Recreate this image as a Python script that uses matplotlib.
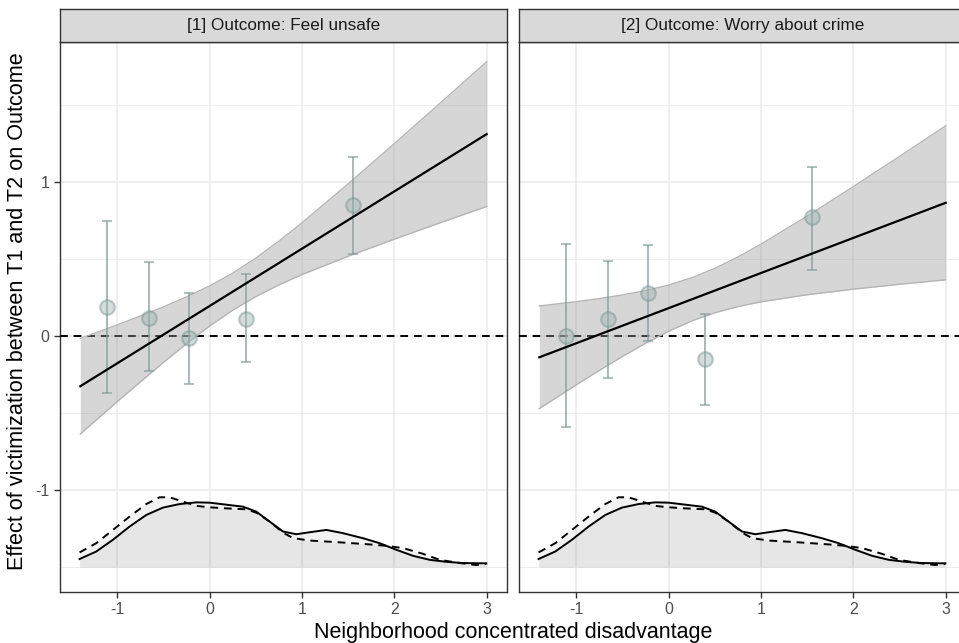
import matplotlib.pyplot as plt
import numpy as np

plt.rcParams['font.family'] = ['Liberation Sans', 'DejaVu Sans']

# binned estimates (x = bin mean of disadvantage)
nokta_x = [-1.11, -0.66, -0.22, 0.39, 1.55]

tahmin1 = [0.19, 0.12, -0.01, 0.11, 0.85]
alt1 = [-0.37, -0.23, -0.31, -0.17, 0.53]
ust1 = [0.75, 0.48, 0.28, 0.40, 1.16]

tahmin2 = [0.00, 0.11, 0.28, -0.15, 0.77]
alt2 = [-0.59, -0.27, -0.03, -0.45, 0.43]
ust2 = [0.60, 0.49, 0.59, 0.14, 1.10]

# linear fit and its band
bant_x = [-1.4, -1.0, -0.75, -0.5, -0.25, 0.0, 0.25, 0.5, 0.75, 1.0, 1.5, 2.0, 2.5, 3.0]
cizgi1 = [-0.326, -0.177, -0.084, 0.009, 0.102, 0.195, 0.288, 0.381, 0.474, 0.567, 0.753, 0.939, 1.125, 1.311]
bant_ust1 = [-0.016, 0.072, 0.130, 0.189, 0.254, 0.325, 0.408, 0.506, 0.616, 0.735, 0.988, 1.249, 1.514, 1.781]
bant_alt1 = [-0.636, -0.426, -0.298, -0.171, -0.050, 0.065, 0.168, 0.256, 0.332, 0.399, 0.518, 0.629, 0.736, 0.841]

cizgi2 = [-0.138, -0.047, 0.010, 0.067, 0.124, 0.181, 0.238, 0.295, 0.352, 0.409, 0.523, 0.637, 0.751, 0.865]
bant_ust2 = [0.195, 0.223, 0.243, 0.267, 0.295, 0.331, 0.378, 0.439, 0.513, 0.596, 0.778, 0.970, 1.166, 1.365]
bant_alt2 = [-0.471, -0.317, -0.223, -0.133, -0.047, 0.031, 0.098, 0.151, 0.191, 0.222, 0.268, 0.304, 0.336, 0.365]

# density of disadvantage (drawn on the effect scale, base at -1.5)
yog_x = [-1.408, -1.227, -1.047, -0.866, -0.686, -0.505, -0.325, -0.144, 0.0, 0.181, 0.361, 0.505,
         0.650, 0.794, 0.939, 1.083, 1.264, 1.444, 1.661, 1.841, 2.022, 2.202, 2.383, 2.563, 2.744, 2.996]
yog_duz = [-1.448, -1.399, -1.323, -1.237, -1.162, -1.114, -1.091, -1.080, -1.082, -1.095, -1.108, -1.140,
           -1.205, -1.269, -1.287, -1.274, -1.259, -1.280, -1.313, -1.345, -1.388, -1.427, -1.453, -1.466,
           -1.474, -1.476]
kesik_x = [-1.408, -1.227, -1.047, -0.866, -0.686, -0.542, -0.433, -0.289, -0.144, 0.0, 0.181, 0.397,
           0.505, 0.650, 0.794, 0.903, 1.083, 1.372, 1.733, 1.913, 2.094, 2.310, 2.491, 2.708, 2.888, 2.996]
yog_kesik = [-1.405, -1.345, -1.259, -1.172, -1.091, -1.047, -1.047, -1.075, -1.103, -1.112, -1.119, -1.125,
             -1.147, -1.205, -1.276, -1.312, -1.328, -1.338, -1.353, -1.362, -1.377, -1.414, -1.453, -1.474,
             -1.487, -1.478]
taban = -1.5

basliklar = ["[1] Outcome: Feel unsafe", "[2] Outcome: Worry about crime"]
x_tik = [-1, 0, 1, 2, 3]
y_tik = [-1, 0, 1]
y_minor = [-1.5, -0.5, 0.5, 1.5]

paneller = [
    (tahmin1, alt1, ust1, cizgi1, bant_alt1, bant_ust1),
    (tahmin2, alt2, ust2, cizgi2, bant_alt2, bant_ust2),
]

fig = plt.figure(figsize=(9.59, 6.43), dpi=100)
fig.patch.set_facecolor("white")

sol_kenar = [60 / 959, 519 / 959]
for i, (tah, alt, ust, cz, b_alt, b_ust) in enumerate(paneller):
    ax = fig.add_axes([sol_kenar[i], 51 / 643, 447 / 959, 550 / 643])
    ax.set_xlim(-1.62, 3.22)
    ax.set_ylim(-1.662, 1.909)

    # grid
    for g in x_tik:
        ax.axvline(g, color="#ebebeb", lw=1.1, zorder=0)
    for g in y_tik:
        ax.axhline(g, color="#ebebeb", lw=1.1, zorder=0)
    for g in y_minor:
        ax.axhline(g, color="#ebebeb", lw=0.6, zorder=0)

    # density
    ax.fill_between(yog_x, taban, yog_duz, color="grey", alpha=0.1, lw=0, zorder=1)
    ax.fill_between(kesik_x, taban, yog_kesik, color="grey", alpha=0.1, lw=0, zorder=1)
    ax.plot(yog_x, yog_duz, color="black", lw=1.4, zorder=2)
    ax.plot(kesik_x, yog_kesik, color="black", lw=1.4, linestyle=(0, (4, 3)), zorder=2)

    # zero line
    ax.axhline(0, color="black", lw=1.4, linestyle=(0, (4, 3)), zorder=3)

    # fitted line with band
    ax.fill_between(bant_x, b_alt, b_ust, color="#999999", alpha=0.4, lw=0, zorder=4)
    ax.plot(bant_x, b_ust, color="#b5b5b5", lw=1.0, zorder=4)
    ax.plot(bant_x, b_alt, color="#b5b5b5", lw=1.0, zorder=4)

    # binned estimates
    hata = [np.array(tah) - np.array(alt), np.array(ust) - np.array(tah)]
    ax.errorbar(nokta_x, tah, yerr=hata, fmt="none", ecolor="#7f9d9b", elinewidth=1.3,
                capsize=3.5, capthick=1.2, alpha=0.75, zorder=5)
    ax.scatter(nokta_x, tah, s=110, facecolor="#9fb5b3", edgecolor="#6f8f8d", linewidth=1.5,
               alpha=0.45, zorder=6)

    ax.plot(bant_x, cz, color="black", lw=1.6, zorder=7)

    # axes style
    for s in ax.spines.values():
        s.set_color("#333333")
        s.set_linewidth(1.0)
    ax.set_xticks(x_tik)
    ax.set_xticklabels([str(t) for t in x_tik])
    ax.tick_params(axis="x", colors="#333333", labelcolor="#4d4d4d", labelsize=11.5, length=4, width=1)
    if i == 0:
        ax.set_yticks(y_tik)
        ax.set_yticklabels([str(t) for t in y_tik])
        ax.tick_params(axis="y", colors="#333333", labelcolor="#4d4d4d", labelsize=11.5, length=4, width=1)
    else:
        ax.set_yticks([])

    # strip on top
    st = fig.add_axes([sol_kenar[i], 601 / 643, 447 / 959, 33 / 643])
    st.set_facecolor("#d9d9d9")
    st.set_xticks([])
    st.set_yticks([])
    for s in st.spines.values():
        s.set_color("#333333")
        s.set_linewidth(1.0)
    st.text(0.5, 0.5, basliklar[i], ha="center", va="center", fontsize=12.3, color="#1a1a1a",
            transform=st.transAxes)

fig.text(0.5355, 0.017, "Neighborhood concentrated disadvantage", ha="center", va="center", fontsize=15.5)
fig.text(0.018, 0.5155, "Effect of victimization between T1 and T2 on Outcome", rotation=90,
         ha="center", va="center", fontsize=15.6)

fig.savefig("out.png", dpi=100)
